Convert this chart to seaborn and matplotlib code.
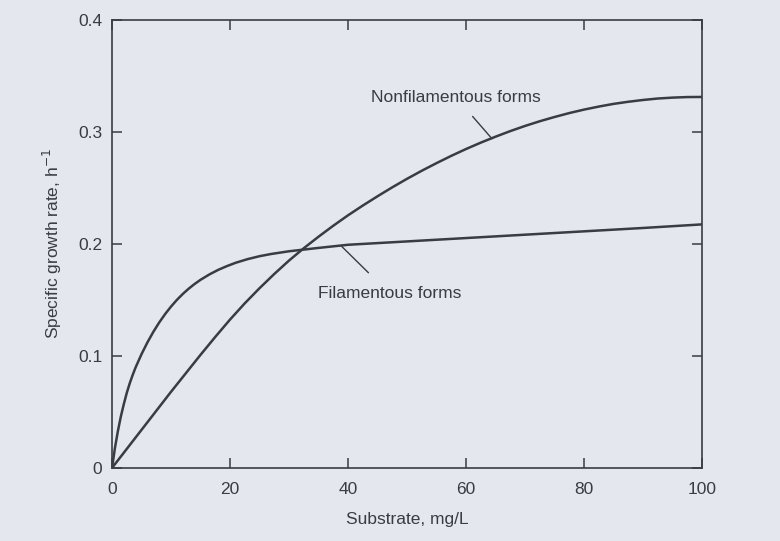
import matplotlib
matplotlib.use("Agg")
import matplotlib.pyplot as plt
import seaborn as sns
import pandas as pd

# Data
fil_substrate = [0, 0.5, 1, 1.5, 2, 2.5, 3, 3.5, 4, 5, 6, 7, 8, 9, 10, 11, 12, 13, 14, 15,
                 16.5, 18, 19.5, 21, 23, 25, 27, 30, 35, 40, 50, 60, 70, 80, 90, 100]
fil_rate = [0, 0.018, 0.033, 0.046, 0.057, 0.067, 0.0755, 0.083, 0.0898, 0.1016, 0.1121,
            0.1215, 0.1299, 0.1374, 0.1441, 0.1501, 0.1554, 0.1601, 0.1643, 0.1680,
            0.1728, 0.1769, 0.1803, 0.1833, 0.1865, 0.1891, 0.1911, 0.1935, 0.1965, 0.1993,
            0.2023, 0.2053, 0.2083, 0.2113, 0.2143, 0.2175]

nonfil_substrate = [0, 5, 10, 15, 17.5, 20, 22.5, 25, 27.5, 30, 32.5, 35, 37.5, 40, 42.5, 45,
                    47.5, 50, 52.5, 55, 57.5, 60, 62.5, 65, 67.5, 70, 72.5, 75, 77.5, 80,
                    82.5, 85, 87.5, 90, 92.5, 95, 97.5, 100]
nonfil_rate = [0, 0.034, 0.068, 0.101, 0.117, 0.1325, 0.1470, 0.1605, 0.1732, 0.1852, 0.1962,
               0.2065, 0.2163, 0.2256, 0.2343, 0.2426, 0.2506, 0.2582, 0.2654, 0.2722, 0.2787,
               0.2848, 0.2905, 0.2958, 0.3008, 0.3054, 0.3096, 0.3134, 0.3169, 0.3200, 0.3227,
               0.3251, 0.3270, 0.3286, 0.3299, 0.3307, 0.3312, 0.3313]

x_ticks = [0, 20, 40, 60, 80, 100]
x_tick_labels = ["0", "20", "40", "60", "80", "100"]
y_ticks = [0, 0.1, 0.2, 0.3, 0.4]
y_tick_labels = ["0", "0.1", "0.2", "0.3", "0.4"]

df = pd.concat([
    pd.DataFrame({"Substrate": fil_substrate, "Rate": fil_rate, "Form": "Filamentous forms"}),
    pd.DataFrame({"Substrate": nonfil_substrate, "Rate": nonfil_rate, "Form": "Nonfilamentous forms"}),
])

sns.set_theme(style="ticks")
plt.rcParams["font.family"] = ["Liberation Sans", "DejaVu Sans"]

bg = "#e4e7ee"
ink = "#3b3b42"
fs = 12.5

fig = plt.figure(figsize=(7.8, 5.41), dpi=100, facecolor=bg)
ax = fig.add_axes([0.1436, 0.135, 0.7564, 0.828])
ax.set_facecolor(bg)

sns.lineplot(data=df, x="Substrate", y="Rate", hue="Form",
             palette={"Filamentous forms": ink, "Nonfilamentous forms": ink},
             linewidth=1.8, legend=False, ax=ax, estimator=None, sort=False,
             solid_joinstyle="round", solid_capstyle="round")

ax.set_xlim(0, 100)
ax.set_ylim(0, 0.4)
ax.set_xticks(x_ticks)
ax.set_xticklabels(x_tick_labels)
ax.set_yticks(y_ticks)
ax.set_yticklabels(y_tick_labels)
ax.tick_params(direction="in", length=7, width=1.1, color=ink, labelcolor=ink,
               labelsize=fs, top=True, right=True)
ax.tick_params(axis="x", pad=10)
ax.tick_params(axis="y", pad=7)
for s in ax.spines.values():
    s.set_color(ink)
    s.set_linewidth(1.2)

ax.set_xlabel("Substrate, mg/L", fontsize=fs, color=ink, labelpad=11)
ax.set_ylabel("Specific growth rate, h$^{-1}$", fontsize=fs, color=ink, labelpad=10)

ax.annotate("Nonfilamentous forms", xy=(64.4, 0.294), xytext=(58.3, 0.331),
            ha="center", va="center", fontsize=fs, color=ink,
            arrowprops=dict(arrowstyle="-", color=ink, lw=1.0, shrinkA=8, shrinkB=0))
ax.annotate("Filamentous forms", xy=(38.9, 0.198), xytext=(47.0, 0.156),
            ha="center", va="center", fontsize=fs, color=ink,
            arrowprops=dict(arrowstyle="-", color=ink, lw=1.0, shrinkA=10, shrinkB=0))

fig.savefig("out.png", dpi=100, facecolor=bg)
